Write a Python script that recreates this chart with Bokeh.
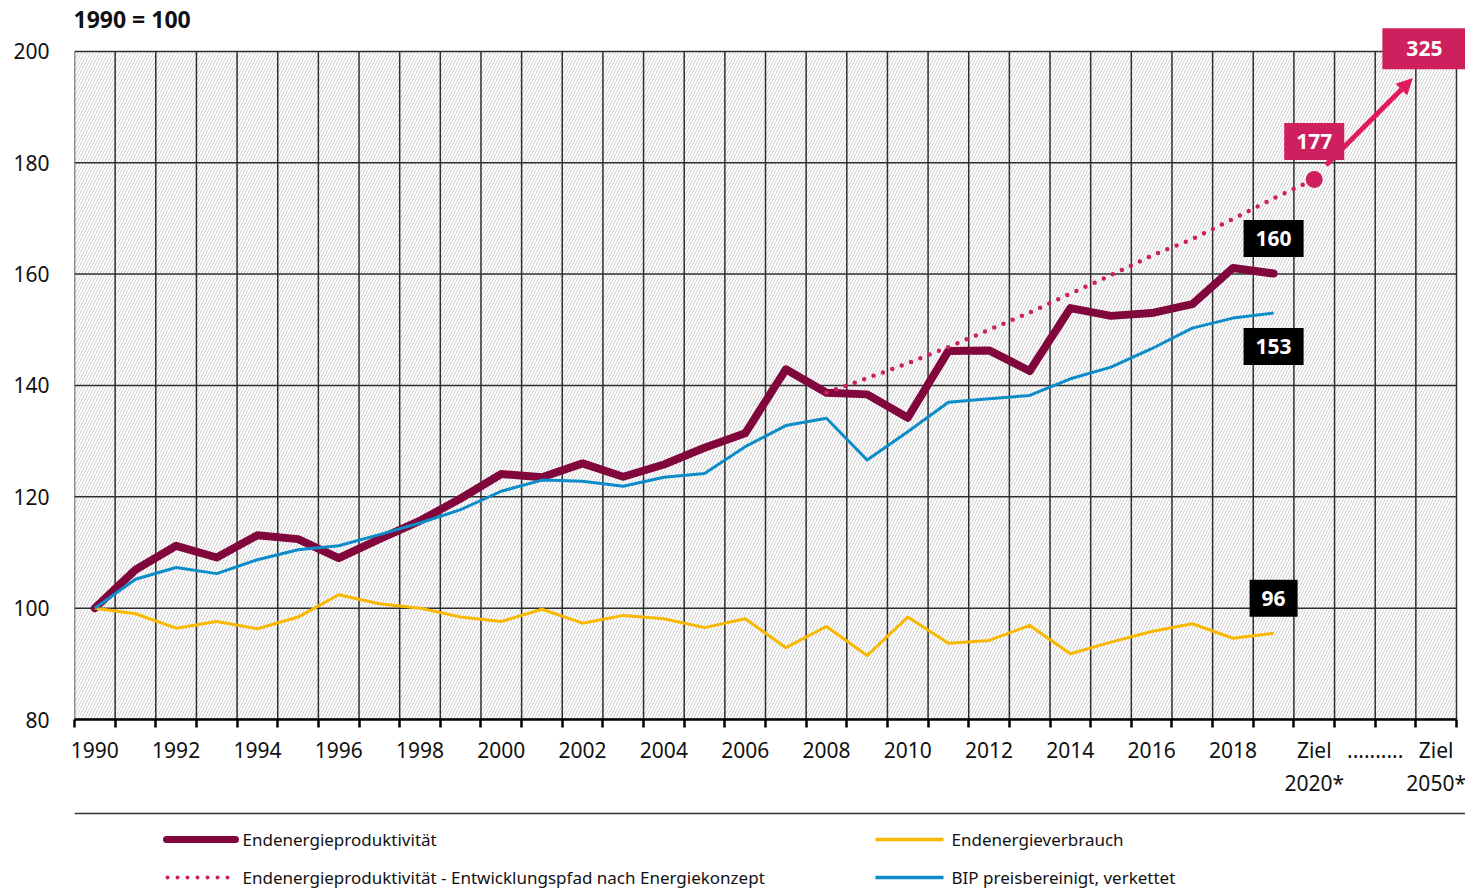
from bokeh.plotting import figure
from bokeh.models import (Range1d, FixedTicker, Label, Arrow, NormalHead, Span)
from bokeh.layouts import column
from bokeh.core.properties import value
from bokeh.embed import file_html
from bokeh.resources import INLINE

# ---------------- data ----------------
years = list(range(1990, 2020))
produktivitaet = [100.0, 106.9, 111.2, 109.1, 113.1, 112.4, 109.0, 112.4, 115.7, 119.7,
                  124.1, 123.5, 126.0, 123.6, 125.8, 128.8, 131.4, 142.9, 138.7, 138.4,
                  134.2, 146.2, 146.3, 142.6, 153.9, 152.5, 153.0, 154.6, 161.1, 160.1]
bip = [100.0, 105.2, 107.3, 106.2, 108.7, 110.5, 111.2, 113.2, 115.3, 117.7,
       121.0, 123.0, 122.8, 121.9, 123.5, 124.2, 129.0, 132.8, 134.1, 126.6,
       131.7, 137.0, 137.6, 138.2, 141.2, 143.3, 146.6, 150.3, 152.1, 153.0]
verbrauch = [100.0, 99.0, 96.4, 97.6, 96.3, 98.4, 102.4, 100.8, 100.0, 98.4,
             97.6, 99.8, 97.3, 98.7, 98.1, 96.5, 98.1, 92.9, 96.7, 91.5,
             98.4, 93.7, 94.2, 96.9, 91.8, 93.9, 95.8, 97.2, 94.6, 95.5]
pfad_years = list(range(2008, 2021))
pfad = [138.7, 141.3, 144.0, 146.9, 150.0, 153.1, 156.5, 159.8, 163.3, 166.3,
        169.9, 173.6, 177.0]
ziel_2020 = 177
ziel_2050 = 325
categories = [str(y) for y in years] + ["Ziel\n2020*", "", "", "Ziel\n2050*"]
gap_label = ".........."
y_ticks = [80, 100, 120, 140, 160, 180, 200]

legend_labels = ["Endenergieproduktivität",
                 "Endenergieproduktivität - Entwicklungspfad nach Energiekonzept",
                 "Endenergieverbrauch",
                 "BIP preisbereinigt, verkettet"]

# ---------------- styles ----------------
FONT = "Noto Sans"
C_PROD = "#80063B"
C_BIP = "#0C8CC8"
C_VERB = "#F9B800"
C_PINK = "#CE1F5E"
C_ARROW = "#E01A60"
C_GRID = "#2E2E2E"
C_TEXT = "#111111"

idx = {c: i for i, c in enumerate(categories)}
x_years = list(range(len(years)))
x_pfad = [y - 1990 for y in pfad_years]
x_z2020 = idx["Ziel\n2020*"]
x_z2050 = len(categories) - 1

# geometry: the grid spans 669 px for 120 units and 34 columns of ~40.65 px;
# the frame is extended above/right so the target box can overhang the grid
W = 1465
X0, X1 = -0.5, len(categories) - 0.5
Y0, Y1 = y_ticks[0], y_ticks[-1]
PX_PER_Y = 669 / (Y1 - Y0)
PX_PER_X = 1382 / (X1 - X0)
TOP_PAD, RIGHT_PAD = 51, 9

p = figure(width=W, height=800,
           x_range=Range1d(X0, X1 + RIGHT_PAD / PX_PER_X),
           y_range=Range1d(Y0, Y1 + TOP_PAD / PX_PER_Y),
           output_backend="svg", toolbar_location=None,
           min_border_left=74, min_border_right=0,
           min_border_top=0, min_border_bottom=80)
p.background_fill_color = "white"
p.border_fill_color = "white"
p.outline_line_color = None
p.grid.visible = False

# hatched plotting area
p.quad(left=[X0], right=[X1], bottom=[Y0], top=[Y1], fill_color="white",
       line_color=None, hatch_pattern="/", hatch_scale=6, hatch_weight=1,
       hatch_color="#d0d0d0")

# grid lines (limited to the grid area)
boundaries = [i - 0.5 for i in range(len(categories) + 1)]
p.segment(x0=boundaries, y0=[Y0] * len(boundaries), x1=boundaries,
          y1=[Y1] * len(boundaries), line_color=C_GRID, line_width=1.5)
p.segment(x0=[X0] * len(y_ticks), y0=y_ticks, x1=[X1] * len(y_ticks), y1=y_ticks,
          line_color=C_GRID, line_width=1.5)

# x axis
label_pos = [i for i, y in enumerate(years) if y % 2 == 0] + [x_z2020, x_z2050]
gap_pos = (x_z2020 + x_z2050) / 2
overrides = {i: categories[i] for i in label_pos}
overrides[gap_pos] = gap_label
p.xaxis.ticker = FixedTicker(ticks=label_pos + [gap_pos], minor_ticks=boundaries)
p.xaxis.major_label_overrides = overrides
p.xaxis.bounds = (X0, X1)
p.xaxis.major_tick_out = 0
p.xaxis.major_tick_in = 0
p.xaxis.minor_tick_out = 8
p.xaxis.minor_tick_in = 0
p.xaxis.minor_tick_line_color = "black"
p.xaxis.minor_tick_line_width = 2.5
p.xaxis.axis_line_color = "black"
p.xaxis.axis_line_width = 2.5
p.xaxis.major_label_standoff = 8
p.xaxis.major_label_text_font = FONT
p.xaxis.major_label_text_font_size = "21px"
p.xaxis.major_label_text_color = C_TEXT

# y axis
p.yaxis.ticker = FixedTicker(ticks=y_ticks)
p.yaxis.axis_line_color = None
p.yaxis.major_tick_line_color = None
p.yaxis.minor_tick_line_color = None
p.yaxis.major_tick_out = 0
p.yaxis.major_tick_in = 0
p.yaxis.major_label_standoff = 25
p.yaxis.major_label_text_font = FONT
p.yaxis.major_label_text_font_size = "21px"
p.yaxis.major_label_text_color = C_TEXT

# heading "1990 = 100"
p.add_layout(Label(x=X0, y=Y1 + 32 / PX_PER_Y, text="1990 = 100", text_align="left",
                   text_baseline="middle", x_offset=-1, text_font=FONT,
                   text_font_size="23px", text_font_style="bold",
                   text_color=C_TEXT))

# series
p.line(x_years, produktivitaet, line_color=C_PROD, line_width=8,
       line_join="round", line_cap="round")
p.line(x_pfad, pfad, line_color=C_PINK, line_width=4.5, line_dash="0 10",
       line_cap="round")
p.line(x_years, verbrauch, line_color=C_VERB, line_width=3, line_join="round")
p.line(x_years, bip, line_color=C_BIP, line_width=3, line_join="round")
p.scatter([x_z2020], [ziel_2020], size=17, fill_color=C_PINK, line_color=None)

# arrow towards 2050 target
p.add_layout(Arrow(end=NormalHead(size=15, fill_color=C_ARROW, line_color=C_ARROW),
                   x_start=x_z2020 + 0.29, y_start=ziel_2020 + 2.6,
                   x_end=x_z2050 - 0.59, y_end=195.1,
                   line_color=C_ARROW, line_width=5))


def box_label(x, y, text, bg, pad=(12, 11)):
    p.add_layout(Label(x=x, y=y, text=text, text_align="center",
                       text_baseline="middle", text_color="white",
                       text_font=FONT, text_font_size="21px",
                       text_font_style="bold", background_fill_color=bg,
                       padding=pad))


last = len(years) - 1
box_label(last, produktivitaet[-1] + 6.3, str(round(produktivitaet[-1])), "black")
box_label(last, bip[-1] - 6.0, str(round(bip[-1])), "black")
box_label(last, verbrauch[-1] + 6.3, str(round(verbrauch[-1])), "black")
box_label(x_z2020, ziel_2020 + 6.8, str(ziel_2020), C_PINK)
box_label(x_z2050 - 0.29, 200.5, str(ziel_2050), C_PINK, pad=(24, 13))

# ---------------- legend panel ----------------
H2 = 88
lg = figure(width=W, height=H2, x_range=Range1d(74, W), y_range=Range1d(H2, 0),
            output_backend="svg", toolbar_location=None,
            min_border_left=74, min_border_right=0,
            min_border_top=0, min_border_bottom=0)
lg.axis.visible = False
lg.grid.visible = False
lg.outline_line_color = None
lg.background_fill_color = "white"
lg.border_fill_color = "white"
lg.add_layout(Span(location=13, dimension="width", line_color="#333333", line_width=1.5))

col_x = [165, 875]
row_y = [39, 77]
sw = 70
lg.line([col_x[0] + 1, col_x[0] + sw], [row_y[0]] * 2, line_color=C_PROD, line_width=7,
        line_cap="round")
lg.line([col_x[0] + 2, col_x[0] + sw], [row_y[1]] * 2, line_color=C_PINK, line_width=4,
        line_dash="0 10", line_cap="round")
lg.line([col_x[1], col_x[1] + sw - 2], [row_y[0]] * 2, line_color=C_VERB, line_width=3.5)
lg.line([col_x[1], col_x[1] + sw - 2], [row_y[1]] * 2, line_color=C_BIP, line_width=3.5)
lg.text(x=[col_x[0] + sw + 7, col_x[0] + sw + 7, col_x[1] + sw + 6, col_x[1] + sw + 6],
        y=[row_y[0], row_y[1], row_y[0], row_y[1]], text=legend_labels,
        text_font=value(FONT), text_font_size="17px", text_baseline="middle",
        text_color=C_TEXT)

layout = column(p, lg, spacing=0)
open("out.html", "w").write(file_html(layout, INLINE))
